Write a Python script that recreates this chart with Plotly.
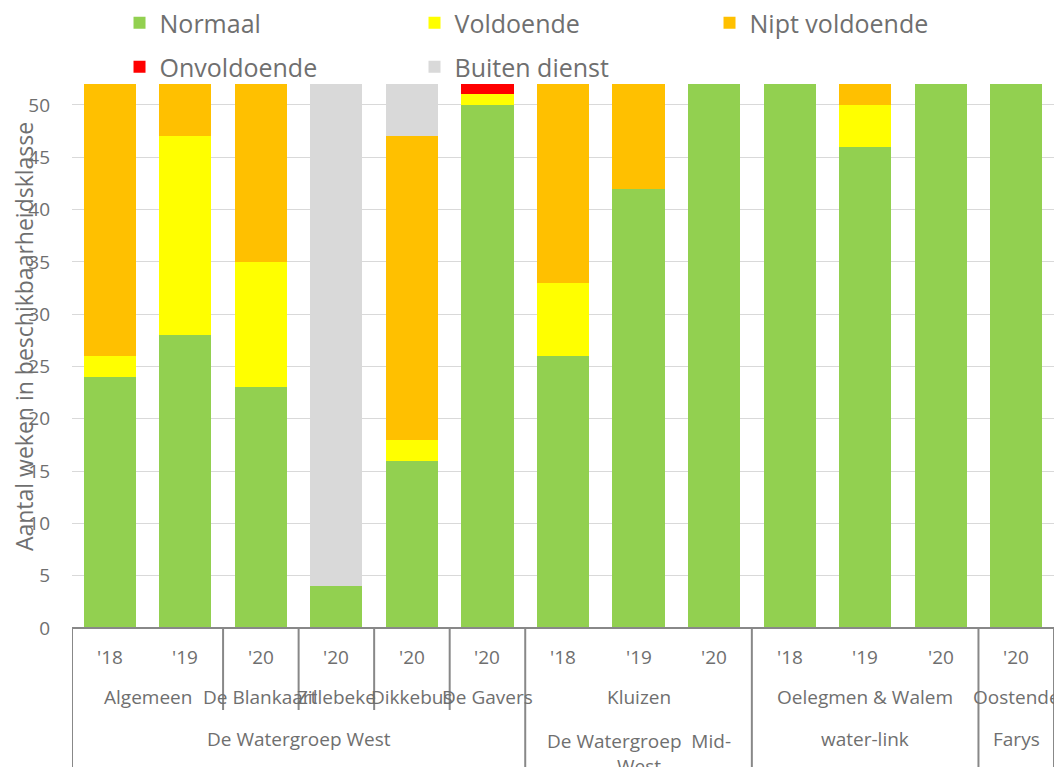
import plotly.graph_objects as go

# ---- data ----
companies = ["De Watergroep West", "De Watergroep  Mid-<br>West", "water-link", "Farys"]
sites = ["Algemeen", "De Blankaart", "Zillebeke", "Dikkebus", "De Gavers",
         "Kluizen", "Oelegmen & Walem", "Oostende"]
years = ["'18", "'19", "'20", "'20", "'20", "'20", "'18", "'19", "'20", "'18", "'19", "'20", "'20"]
bar_site = [0, 0, 1, 2, 3, 4, 5, 5, 5, 6, 6, 6, 7]
site_company = [0, 0, 0, 0, 0, 1, 2, 3]

normaal = [24, 28, 23, 4, 16, 50, 26, 42, 52, 52, 46, 52, 52]
voldoende = [2, 19, 12, 0, 2, 1, 7, 0, 0, 0, 4, 0, 0]
nipt = [26, 5, 17, 0, 29, 0, 19, 10, 0, 0, 2, 0, 0]
onvoldoende = [0, 0, 0, 0, 0, 1, 0, 0, 0, 0, 0, 0, 0]
buiten = [0, 0, 0, 48, 5, 0, 0, 0, 0, 0, 0, 0, 0]

series = [
    ("Normaal", normaal, "#92D050", "legend"),
    ("Voldoende", voldoende, "#FFFF00", "legend"),
    ("Nipt voldoende", nipt, "#FFC000", "legend"),
    ("Onvoldoende", onvoldoende, "#FF0000", "legend2"),
    ("Buiten dienst", buiten, "#D9D9D9", "legend2"),
]

FONT = "Open Sans"
GREY = "#6f6f6f"
LINE = "#888888"

W, H = 1054, 759          # page body has an 8px margin
ML, MR, MT, MB = 64, 8, 76, 139
PH = H - MT - MB

x = list(range(len(years)))
fig = go.Figure()
for name, vals, col, lg in series:
    fig.add_trace(go.Bar(x=x, y=vals, name=name, marker=dict(color=col, line=dict(width=0)),
                         legend=lg))

def py(page_px):
    """paper y for a page pixel row below/above the plot"""
    return (H - MB - (page_px - 8)) / PH

lab_font = dict(size=19, color=GREY, family=FONT)
ann = []
for i, yl in enumerate(years):
    ann.append(dict(x=i, y=py(657), xref="x", yref="paper", text=yl, showarrow=False,
                    xanchor="center", yanchor="middle", font=lab_font))
for s, name in enumerate(sites):
    idx = [i for i, b in enumerate(bar_site) if b == s]
    ann.append(dict(x=(idx[0] + idx[-1]) / 2, y=py(697), xref="x", yref="paper", text=name,
                    showarrow=False, xanchor="center", yanchor="middle", font=lab_font))
for c, name in enumerate(companies):
    idx = [i for i, b in enumerate(bar_site) if site_company[b] == c]
    wrapped = "<br>" in name
    ann.append(dict(x=(idx[0] + idx[-1]) / 2, y=py(726) if wrapped else py(739), xref="x",
                    yref="paper", text=name, showarrow=False, xanchor="center",
                    yanchor="top" if wrapped else "middle", font=lab_font))

ann.append(dict(x=(28 - 8 - ML) / (W - ML - MR) - 0.004, y=py(337), xref="paper", yref="paper",
                text="Aantal weken in beschikbaarheidsklasse", textangle=-90, showarrow=False,
                xanchor="center", yanchor="middle", font=dict(size=23, color=GREY, family=FONT)))

shapes = []
n = len(years)
for i in range(n + 1):
    xb = i - 0.5
    if i == 0 or i == n:
        y_end = py(800)
    else:
        prev_site, next_site = bar_site[i - 1], bar_site[i]
        if site_company[prev_site] != site_company[next_site]:
            y_end = py(800)
        elif prev_site != next_site:
            y_end = py(710)
        else:
            continue
    shapes.append(dict(type="line", xref="x", yref="paper", x0=xb, x1=xb, y0=0, y1=y_end,
                       line=dict(color=LINE, width=2)))
shapes.append(dict(type="line", xref="x", yref="paper", x0=-0.5, x1=n - 0.5, y0=0, y1=0,
                   line=dict(color=LINE, width=2)))

fig.update_layout(
    width=W, height=H,
    barmode="stack", bargap=0.31,
    plot_bgcolor="white", paper_bgcolor="white",
    margin=dict(l=ML, r=MR, t=MT, b=MB, autoexpand=False),
    font=dict(family=FONT, color=GREY),
    xaxis=dict(range=[-0.5, n - 0.5], showticklabels=False, showgrid=False, zeroline=False,
               showline=False, ticks=""),
    yaxis=dict(range=[0, 52], tickvals=list(range(0, 51, 5)), showgrid=True, gridcolor="#D9D9D9",
               gridwidth=1, zeroline=False, showline=False,
               tickfont=dict(size=19, color=GREY, family=FONT), ticklabelstandoff=21),
    legend=dict(orientation="h", xref="container", yref="container", x=0.1058, y=1 - 15 / H,
                xanchor="left", yanchor="middle", entrywidth=250, traceorder="normal",
                font=dict(size=25, color=GREY, family=FONT), bgcolor="rgba(0,0,0,0)"),
    legend2=dict(orientation="h", xref="container", yref="container", x=0.1058, y=1 - 59 / H,
                 xanchor="left", yanchor="middle", entrywidth=250, traceorder="normal",
                 font=dict(size=25, color=GREY, family=FONT), bgcolor="rgba(0,0,0,0)"),
    annotations=ann, shapes=shapes,
)
fig.write_html("out.html")
